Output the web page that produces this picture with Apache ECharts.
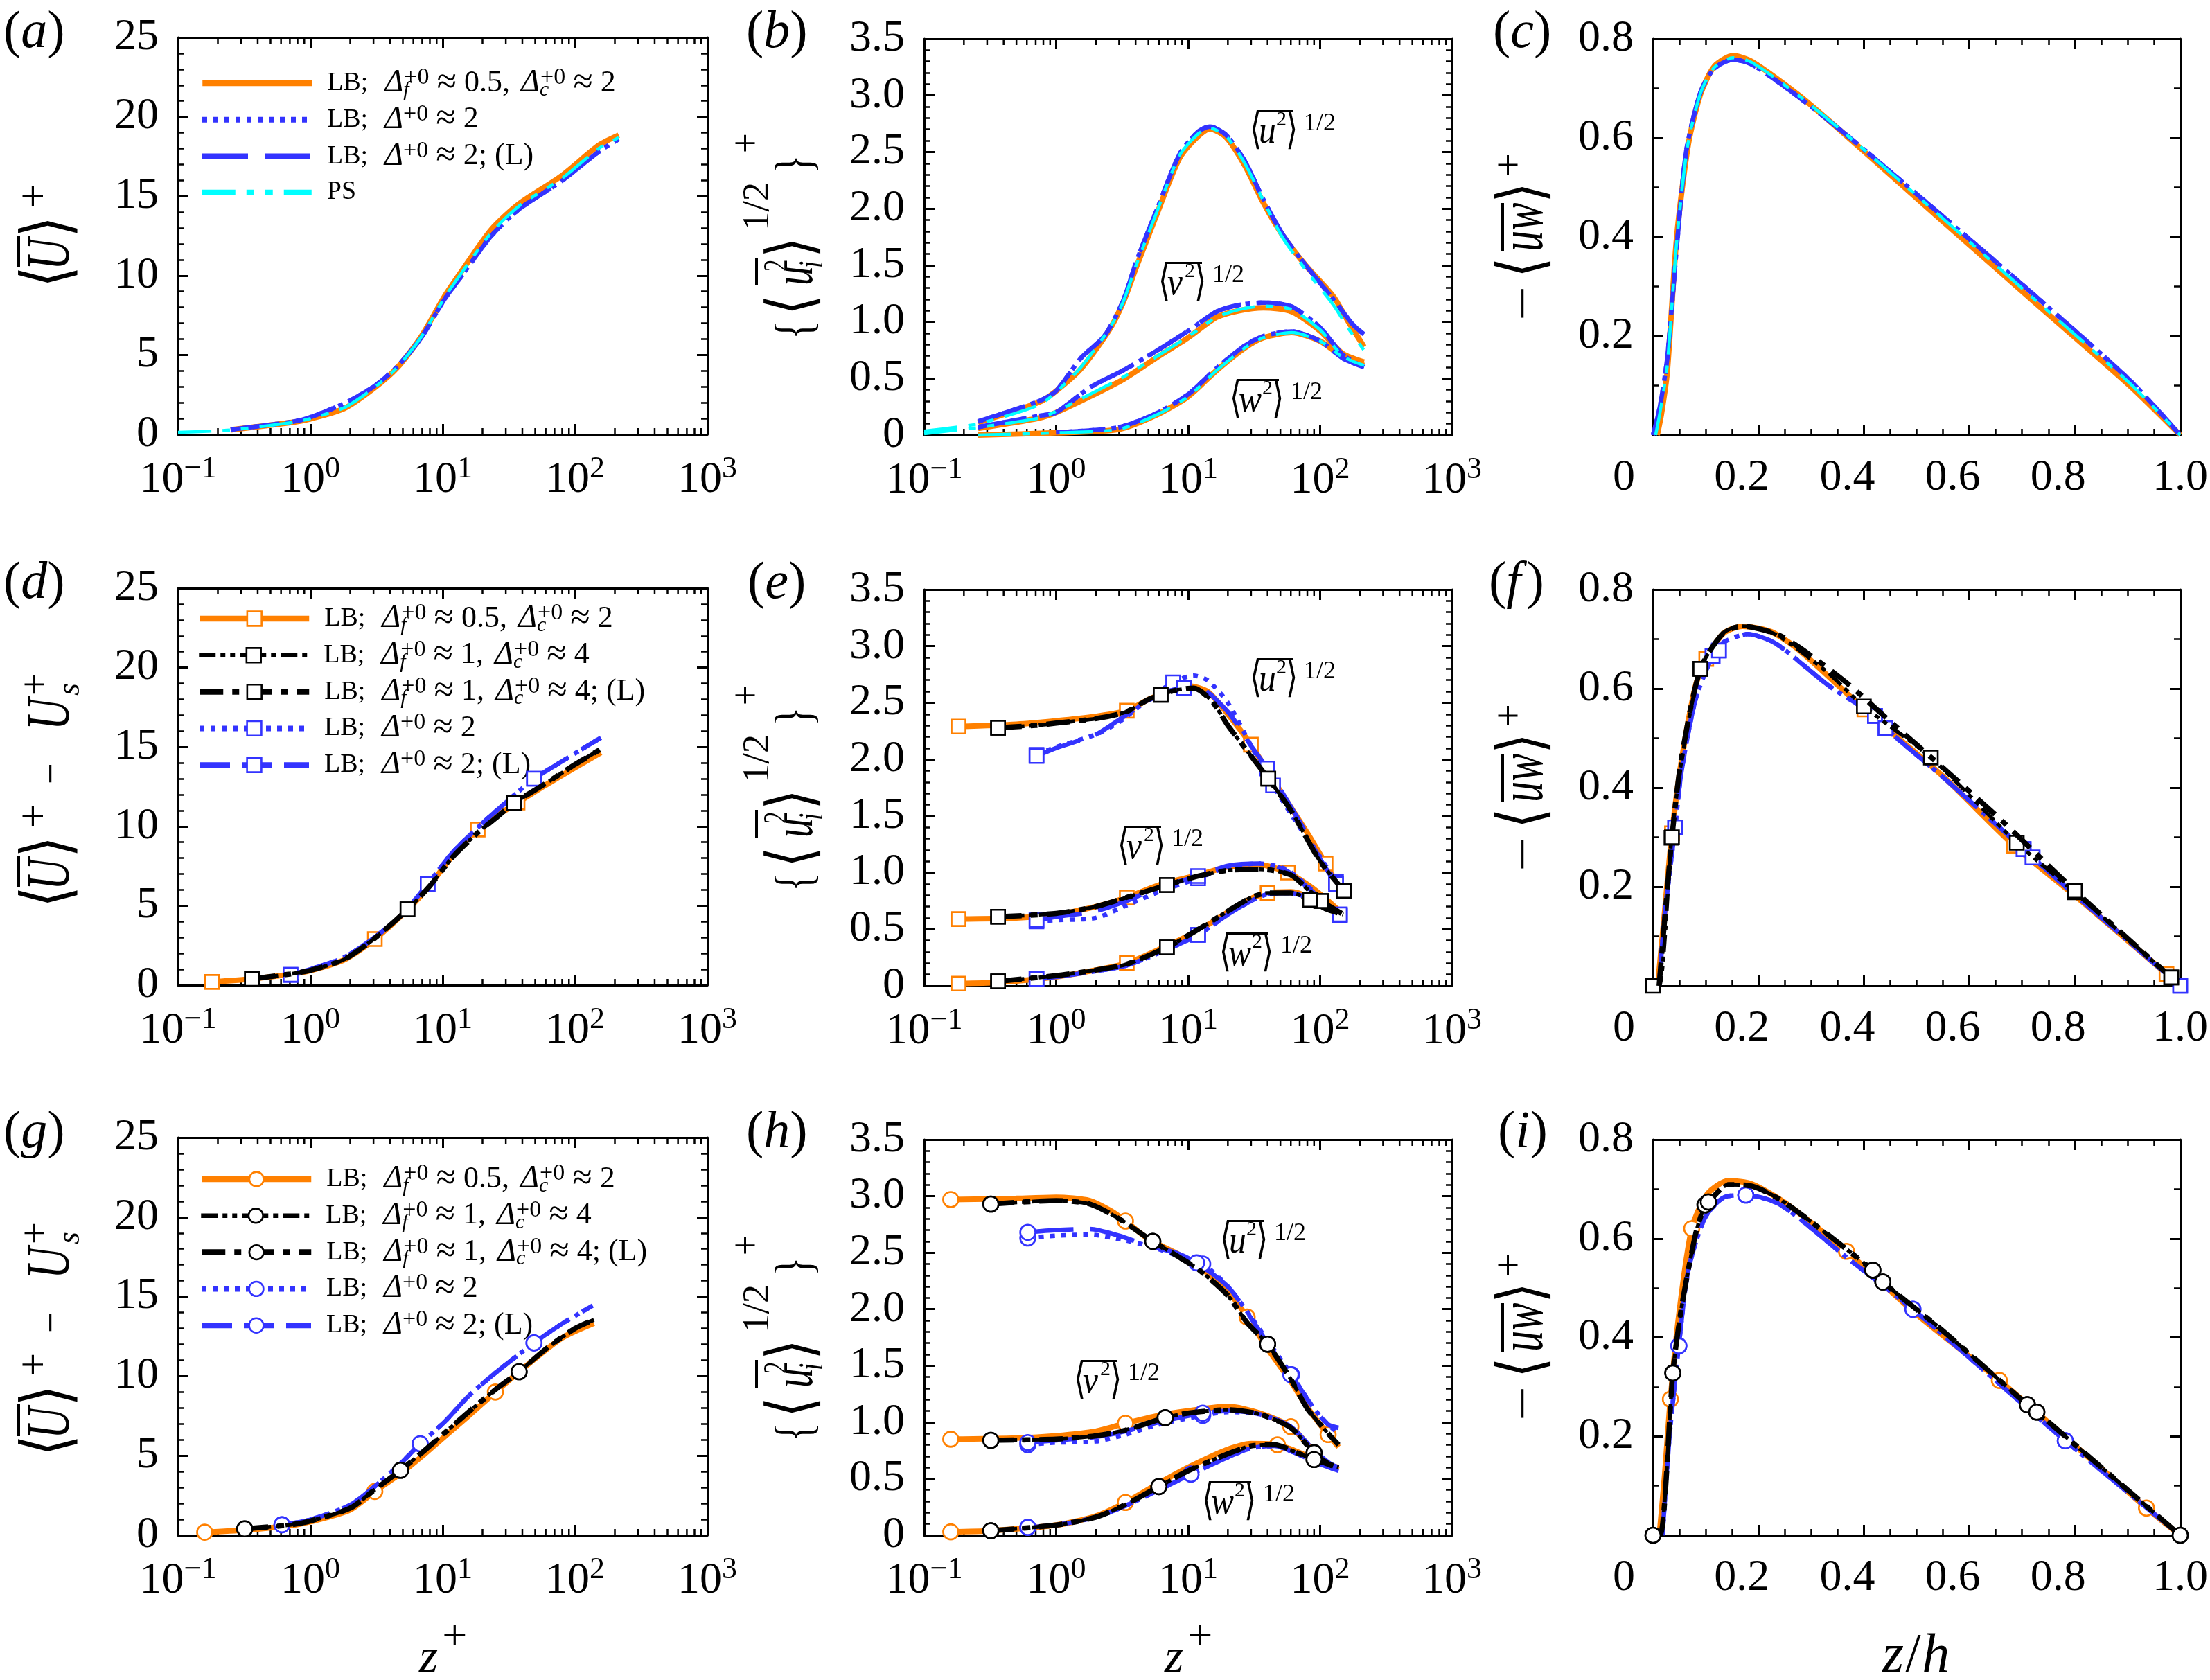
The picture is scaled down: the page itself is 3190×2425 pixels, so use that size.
<!DOCTYPE html>
<html><head><meta charset="utf-8"><style>html,body{margin:0;padding:0;background:#fff}#c{width:3190px;height:2425px}</style>
<script src="https://cdn.jsdelivr.net/npm/echarts@6/dist/echarts.min.js"></script></head><body><div id="c"></div>
<script>
// ---------- data ----------
const a_lb=[[.25,.28],[.74,.76],[1,.98],[1.8,1.63],[3.05,2.93],[4.57,4.23],[6.9,6.18],[10.3,8.68],[13.7,10.2],[23.3,12.9],[38,14.54],[79,16.28],[151,18.2],[214,18.84]];
const a_blue=[[.25,.3],[.74,.8],[1,1.08],[1.8,1.95],[3.05,3.04],[4.57,4.3],[6.9,6.1],[10.3,8.5],[13.7,9.9],[23.3,12.5],[38,14.2],[79,15.95],[151,17.8],[214,18.6]];
const a_ps=[[.1,.13],[.25,.28],[.74,.76],[1,1],[1.8,1.68],[3.05,2.95],[4.57,4.25],[6.9,6.15],[10.3,8.6],[13.7,10.1],[23.3,12.7],[38,14.4],[79,16.1],[151,18],[214,18.7]];

const b_u_lb=[[.256,.11],[.74,.29],[1,.39],[1.54,.585],[2.5,.92],[3.2,1.165],[4.1,1.5],[5.7,1.93],[8.6,2.445],[11.9,2.64],[14.6,2.705],[19.4,2.63],[26.9,2.38],[37.2,2.05],[51.6,1.77],[77.6,1.5],[126,1.225],[162,1.01],[215,.78]];
const b_u_long=[[.256,.12],[.74,.3],[1,.39],[1.54,.68],[2.32,.875],[3.2,1.18],[4.1,1.55],[5.7,1.97],[8.6,2.48],[11.9,2.68],[14.6,2.725],[19.4,2.65],[26.9,2.42],[37.2,2.08],[51.6,1.78],[77.6,1.5],[126,1.2],[176,.98],[215,.89]];
const b_u_ps=[[.1,.035],[.256,.1],[.74,.265],[1,.38],[1.54,.6],[2.5,.93],[3.2,1.17],[4.1,1.52],[5.7,1.95],[8.6,2.47],[11.9,2.66],[14.6,2.71],[19.4,2.64],[26.9,2.4],[37.2,2.07],[51.6,1.75],[77.6,1.46],[126,1.15],[162,.95],[215,.75]];
const b_v_lb=[[.256,.06],[.74,.15],[1,.2],[1.8,.34],[3.2,.49],[5.7,.68],[10,.86],[16.4,1.04],[24.5,1.1],[37.2,1.125],[60.8,1.09],[100,.92],[148,.72],[215,.645]];
const b_v_long=[[.256,.07],[.74,.17],[1,.2],[1.8,.42],[3.2,.57],[5.7,.74],[10,.92],[16.4,1.09],[24.5,1.15],[37.2,1.17],[60.8,1.135],[100,.95],[148,.71],[215,.6]];
const b_v_ps=[[.1,.012],[.256,.067],[.74,.15],[1,.21],[1.8,.36],[3.2,.51],[5.7,.69],[10,.87],[16.4,1.04],[24.5,1.11],[37.2,1.14],[60.8,1.11],[100,.93],[148,.7],[215,.61]];
const b_w_lb=[[.256,0],[1,.02],[2.95,.05],[5.7,.175],[10,.34],[16.4,.57],[26.9,.77],[37.2,.86],[60.8,.905],[100,.83],[148,.69],[215,.615]];
const b_w_blue=[[1,.025],[2.95,.067],[5.7,.19],[10,.36],[16.4,.59],[26.9,.79],[37.2,.875],[60.8,.915],[100,.83],[148,.68],[215,.6]];

const c_lb=[[.008,0],[.016,.043],[.027,.127],[.045,.4],[.067,.587],[.09,.688],[.116,.744],[.152,.766],[.188,.754],[.278,.685],[.385,.587],[.547,.434],[.726,.266],[.905,.099],[1,0]];
const c_blue=[[0,0],[.013,.057],[.027,.155],[.045,.378],[.063,.573],[.09,.692],[.116,.74],[.152,.758],[.188,.748],[.278,.681],[.385,.59],[.547,.444],[.726,.28],[.905,.11],[1,0]];
const c_ps=[[.005,0],[.014,.05],[.027,.14],[.045,.39],[.065,.58],[.09,.69],[.116,.742],[.152,.762],[.188,.752],[.278,.684],[.385,.59],[.547,.44],[.726,.272],[.905,.104],[1,0]];

const d_lb=[[.181,.2],[.35,.38],[.7,.68],[1,.92],[1.8,1.6],[3.07,2.9],[5.5,4.8],[8,6.3],[12,8.2],[18.4,9.8],[25,10.6],[36.8,11.5],[60,12.6],[100,13.7],[157,14.65]];
const d_black=[[.362,.39],[.7,.7],[1,.93],[1.8,1.62],[3.07,2.95],[5.42,4.77],[8,6.25],[12,8.1],[18.4,9.6],[25,10.5],[34.5,11.46],[60,12.7],[100,13.9],[157,14.87]];
const d_blue=[[.708,.65],[1,1],[1.8,1.75],[3,2.95],[5,4.5],[7.7,6.36],[12,8.4],[20,10.2],[30,11.5],[49,13],[80,14.1],[120,15],[157,15.58]];

const e_u_lb=[[.182,2.29],[.5,2.31],[1,2.34],[2,2.38],[3.43,2.43],[5,2.53],[7,2.6],[10,2.65],[14,2.6],[20,2.4],[29.9,2.13],[50,1.72],[80,1.35],[110,1.08],[143,.85]];
const e_u_black=[[.363,2.28],[.7,2.3],[1,2.32],[2,2.36],[3.4,2.42],[5,2.53],[6.2,2.57],[8,2.61],[11,2.63],[15,2.52],[20,2.3],[30,2.03],[40.5,1.83],[60,1.55],[100,1.1],[151,.84]];
const e_u_dot=[[.71,2.04],[1,2.11],[2,2.22],[3,2.33],[5,2.53],[7.7,2.68],[11,2.74],[14,2.7],[20,2.5],[30,2.12],[44,1.77],[70,1.4],[100,1.14],[132,.92],[150,.86]];
const e_u_long=[[.71,2.03],[1,2.1],[2,2.22],[3,2.35],[5,2.52],[7,2.6],[9.3,2.63],[12,2.63],[20,2.42],[30,2.12],[39.8,1.92],[70,1.45],[100,1.12],[132,.9],[150,.8]];
const e_v_lb=[[.182,.59],[.5,.6],[1,.63],[2,.7],[3.43,.78],[6,.89],[12,.98],[20,1.05],[35,1.07],[57,1],[84,.88],[110,.77],[143,.65]];
const e_v_black=[[.363,.61],[1,.64],[2,.7],[3.4,.78],[6.9,.89],[12,.97],[20,1.02],[35,1.03],[60,.98],[84,.83],[102,.75],[150,.63]];
const e_v_dot=[[.71,.57],[1,.58],[2,.6],[3.4,.71],[6,.83],[11.9,.95],[20,1.05],[35,1.08],[55,1.03],[84,.86],[110,.72],[141,.62]];
const e_v_long=[[.71,.58],[1,.61],[2,.66],[3.4,.75],[6,.87],[11.9,.97],[20,1.06],[35,1.08],[55,1.02],[84,.85],[110,.73],[141,.62]];
const e_w_lb=[[.182,.02],[.36,.03],[1,.08],[2,.14],[3.43,.2],[6,.32],[12,.49],[20,.65],[30,.77],[40,.82],[60,.83],[84,.78],[110,.7],[143,.62]];
const e_w_black=[[.363,.04],[1,.09],[2,.14],[3.4,.19],[6.9,.34],[12,.5],[20,.66],[30,.78],[40,.82],[60,.82],[84,.76],[110,.68],[150,.63]];
const e_w_blue=[[.71,.06],[1,.08],[2,.13],[3.4,.18],[6,.29],[11.9,.45],[20,.63],[30,.75],[40,.81],[60,.82],[84,.77],[110,.7],[141,.63]];

const f_lb=[[.009,0],[.022,.148],[.036,.308],[.054,.454],[.081,.607],[.101,.66],[.134,.712],[.17,.726],[.224,.715],[.278,.677],[.401,.558],[.547,.426],[.685,.283],[.815,.169],[.974,.024],[.995,.005]];
const f_black=[[0,0],[.0116,0],[.035,.299],[.0385,.332],[.054,.454],[.09,.64],[.134,.713],[.17,.726],[.235,.708],[.332,.632],[.4,.564],[.527,.461],[.69,.289],[.8,.189],[.983,.017]];
const f_blackL=[[.0116,0],[.036,.3],[.054,.46],[.09,.64],[.134,.713],[.17,.726],[.235,.71],[.278,.683],[.367,.612],[.457,.527],[.547,.443],[.663,.332],[.8,.192],[.983,.017]];
const f_blue=[[.0116,0],[.022,.141],[.042,.32],[.054,.433],[.081,.579],[.113,.666],[.125,.677],[.134,.694],[.179,.71],[.233,.691],[.332,.607],[.421,.545],[.441,.52],[.547,.424],[.703,.276],[.72,.259],[.8,.184],[1,0]];

const g_lb=[[.159,.19],[.32,.33],[.7,.6],[1,.85],[2,1.6],[3.07,2.75],[4.8,3.87],[6.9,4.93],[10.4,6.22],[15.7,7.5],[25,9],[45,10.8],[79.6,12.4],[139,13.33]];
const g_black=[[.319,.4],[.7,.65],[1,.9],[2,1.7],[3,2.8],[4.8,4.08],[6.9,5.16],[10.4,6.45],[15.7,7.75],[25,9.15],[37.8,10.28],[60,11.7],[100,13],[139,13.54]];
const g_blue=[[.61,.66],[1,.98],[2,1.9],[3,3],[4.8,4.5],[6.76,5.75],[10.4,7.15],[15.7,8.75],[25,10.2],[49,12.09],[80,13.3],[136,14.44]];

const h_u_lb=[[.159,2.97],[.5,2.98],[1,2.99],[1.8,2.96],[2.6,2.87],[3.35,2.78],[5,2.62],[8,2.5],[12,2.38],[20,2.16],[28,1.93],[40,1.65],[60,1.36],[80,1.13],[115,.89],[138,.78]];
const h_u_black=[[.32,2.93],[1,2.96],[1.8,2.93],[3,2.8],[5.4,2.6],[8,2.48],[12,2.35],[20,2.12],[28,1.88],[40,1.69],[60,1.38],[80,1.12],[115,.9],[138,.8]];
const h_u_dot=[[.61,2.63],[1,2.65],[1.8,2.66],[3,2.62],[5,2.56],[8,2.48],[12.9,2.4],[20,2.2],[30,1.93],[40,1.72],[60.8,1.42],[90,1.12],[115,.98],[138,.9]];
const h_u_long=[[.61,2.68],[1,2.7],[1.8,2.71],[3,2.65],[5,2.56],[8,2.5],[11.6,2.41],[20,2.2],[30,1.92],[40,1.7],[60,1.42],[90,1.12],[115,.98],[138,.95]];
const h_v_lb=[[.159,.85],[.5,.86],[1,.88],[2,.92],[3.35,.99],[6,1.06],[10,1.1],[20,1.14],[35,1.08],[60,.96],[90,.74],[120,.62],[138,.6]];
const h_v_black=[[.32,.84],[1,.85],[2,.88],[3.35,.93],[6.7,1.04],[10,1.08],[20,1.11],[35,1.07],[60,.95],[90,.73],[120,.62],[138,.6]];
const h_v_dot=[[.61,.8],[1,.82],[2,.83],[3.35,.89],[6,.98],[12.9,1.06],[20,1.09],[35,1.07],[60,.96],[90,.75],[120,.63],[138,.6]];
const h_v_long=[[.61,.82],[1,.84],[2,.87],[3.35,.92],[6,1],[12.9,1.08],[20,1.1],[35,1.07],[60,.96],[90,.75],[120,.63],[138,.6]];
const h_w_lb=[[.159,.03],[.32,.04],[1,.09],[2,.17],[3.35,.29],[6,.46],[10,.6],[20,.76],[30,.81],[47.5,.8],[70,.73],[100,.65],[138,.58]];
const h_w_black=[[.32,.04],[1,.09],[2,.16],[3.35,.27],[6,.43],[10,.57],[20,.72],[30,.79],[45,.8],[70,.72],[90,.67],[138,.6]];
const h_w_blue=[[.61,.07],[1,.09],[2,.16],[3.35,.26],[6,.4],[10.5,.54],[20,.69],[30,.77],[45,.79],[70,.71],[100,.63],[138,.57]];

const i_lb=[[.012,0],[.022,.12],[.033,.275],[.049,.445],[.0735,.62],[.103,.69],[.143,.717],[.188,.71],[.251,.672],[.367,.574],[.502,.445],[.657,.313],[.789,.192],[.936,.055],[1,0]];
const i_black=[[0,0],[.0134,0],[.0376,.328],[.054,.46],[.081,.61],[.0986,.668],[.105,.674],[.143,.709],[.188,.706],[.251,.672],[.417,.536],[.436,.512],[.547,.416],[.71,.264],[.728,.249],[.782,.2],[1,0]];
const i_blue=[[.018,0],[.031,.196],[.049,.383],[.067,.536],[.0986,.642],[.134,.683],[.176,.688],[.242,.668],[.367,.562],[.493,.457],[.654,.309],[.782,.191],[1,0]];

// marker positions along the curves (abscissae)
const d_lb_m=[.181,3.07,18.4,36.8], d_black_m=[.362,5.42,34.5], d_blue_m=[.708,7.7,49];
const e_u_lb_m=[.182,3.43,29.9,110], e_u_black_m=[.363,6.2,40.5,151], e_u_dot_m=[.71,7.7,44,132], e_u_long_m=[.71,9.3,39.8,132];
const e_v_lb_m=[.182,3.43,57], e_v_black_m=[.363,6.9,102], e_v_blue_m=[.71,11.9,141];
const e_w_lb_m=[.182,3.43,40], e_w_black_m=[.363,6.9,84], e_w_blue_m=[.71,11.9,141];
const f_lb_m=[.036,.101,.401,.685,.974], f_black_m=[0,.035,.09,.4,.527,.69,.8,.983], f_blackL_m=[.036,.09,.8,.983], f_blue_m=[.042,.113,.125,.421,.441,.703,.72,1];
const g_lb_m=[.159,3.07,25], g_black_m=[.319,4.8,37.8], g_blue_m=[.61,6.76,49];
const h_u_lb_m=[.159,3.35,28,115], h_u_black_m=[.32,5.4,40], h_u_dot_m=[.61,12.9,60.8], h_u_long_m=[.61,11.6,60];
const h_v_lb_m=[.159,3.35,60], h_v_black_m=[.32,6.7,90], h_v_blue_m=[.61,12.9];
const h_w_lb_m=[.159,3.35,47.5], h_w_black_m=[.32,6,90], h_w_blue_m=[.61,10.5];
const i_lb_m=[.033,.0735,.367,.657,.936], i_black_m=[0,.0376,.0986,.105,.417,.436,.71,.728,1], i_blue_m=[.049,.176,.493,.782];

const legendA=['LB f05 c2','LB d2','LB d2 L','PS'];
const legendB=['LB f05 c2','LB f1 c4','LB f1 c4 L','LB d2','LB d2 L'];
const DF='{m|LB;}{sa| }{d|Δ}{z|f}{p|+0}{sb| }{e|≈}{sb| }';
const DC='{sc| }{d|Δ}{z|c}{p|+0}{sb| }{e|≈}{sb| }';
const D0='{m|LB;}{sa| }{d|Δ}{p|+0}{sb| }{e|≈}{sb| }';
const legendText={
 'LB f05 c2':'{g| }'+DF+'{n|0.5,}'+DC+'{n|2}',
 'LB f1 c4':'{g| }'+DF+'{n|1,}'+DC+'{n|4}',
 'LB f1 c4 L':'{g| }'+DF+'{n|1,}'+DC+'{n|4; (L)}',
 'LB d2':'{g| }'+D0+'{n|2}',
 'LB d2 L':'{g| }'+D0+'{n|2; (L)}',
 'PS':'{g| }{m|PS}{p| }'
};

// ---------- styling ----------
const ORANGE='#ff8000',BLUE='#3333ff',CYAN='#00ffff',BLACK='#000000',SERIF='"Liberation Serif","DejaVu Serif",serif';
const STY={
 lb:{c:ORANGE,w:8,d:'solid',z:3,n:'LB f05 c2',lw:8.5},
 dot:{c:BLUE,w:6.5,d:[7,9],z:4,n:'LB d2',lw:8},
 long:{c:BLUE,w:6.5,d:[66,24],z:5,n:'LB d2 L',lw:8,ld:[44,17]},
 ps:{c:CYAN,w:4.5,d:[48,16,11,16,11,16],z:6,n:'PS',lw:7.5},
 bs:{c:BLACK,w:5.5,d:[24,7,7,7,7,7],z:7,n:'LB f1 c4',lw:6.5},
 bl:{c:BLACK,w:7.5,d:[34,13,10,13],z:8,n:'LB f1 c4 L',lw:8.5}
};
const KEY={'LB f05 c2':'lb','LB d2':'dot','LB d2 L':'long','PS':'ps','LB f1 c4':'bs','LB f1 c4 L':'bl'};
function S(k,data,m){return {k,data,m:m||[]};}

const panels=[
{id:'a',log:1,box:[257,54,764,573],yMax:25,yInt:5,ySplit:5,sym:'none',legend:legendA,leg:[288,119],curves:[S('lb',a_lb),S('dot',a_blue),S('long',a_blue),S('ps',a_ps)]},
{id:'b',log:1,box:[1334,56,762,572],yMax:3.5,yInt:.5,ySplit:5,sym:'none',curves:[S('lb',b_u_lb),S('lb',b_v_lb),S('lb',b_w_lb),S('dot',b_u_long),S('dot',b_v_long),S('dot',b_w_blue),S('long',b_u_long),S('long',b_v_long),S('long',b_w_blue),S('ps',b_u_ps),S('ps',b_v_ps),S('ps',b_w_lb)]},
{id:'c',box:[2386,56,762,572],yMax:.8,yInt:.2,ySplit:2,sym:'none',curves:[S('lb',c_lb),S('dot',c_blue),S('long',c_blue),S('ps',c_ps)]},
{id:'d',log:1,box:[257,849,764,573],yMax:25,yInt:5,ySplit:5,sym:'rect',legend:legendB,leg:[284,892],curves:[S('lb',d_lb,d_lb_m),S('dot',d_blue,d_blue_m),S('long',d_blue,d_blue_m),S('bs',d_black,d_black_m),S('bl',d_black,d_black_m)]},
{id:'e',log:1,box:[1334,851,762,572],yMax:3.5,yInt:.5,ySplit:5,sym:'rect',curves:[S('lb',e_u_lb,e_u_lb_m),S('lb',e_v_lb,e_v_lb_m),S('lb',e_w_lb,e_w_lb_m),S('dot',e_u_dot,e_u_dot_m),S('dot',e_v_dot,e_v_blue_m),S('dot',e_w_blue,e_w_blue_m),S('long',e_u_long,e_u_long_m),S('long',e_v_long,e_v_blue_m),S('long',e_w_blue,e_w_blue_m),S('bs',e_u_black,e_u_black_m),S('bs',e_v_black,e_v_black_m),S('bs',e_w_black,e_w_black_m),S('bl',e_u_black,e_u_black_m),S('bl',e_v_black,e_v_black_m),S('bl',e_w_black,e_w_black_m)]},
{id:'f',box:[2386,851,762,572],yMax:.8,yInt:.2,ySplit:2,sym:'rect',curves:[S('lb',f_lb,f_lb_m),S('dot',f_blue,f_blue_m),S('long',f_blue,f_blue_m),S('bs',f_black,f_black_m),S('bl',f_blackL,f_blackL_m)]},
{id:'g',log:1,box:[257,1642,764,574],yMax:25,yInt:5,ySplit:5,sym:'circle',legend:legendB,leg:[287,1701],curves:[S('lb',g_lb,g_lb_m),S('dot',g_blue,g_blue_m),S('long',g_blue,g_blue_m),S('bs',g_black,g_black_m),S('bl',g_black,g_black_m)]},
{id:'h',log:1,box:[1334,1645,762,571],yMax:3.5,yInt:.5,ySplit:5,sym:'circle',curves:[S('lb',h_u_lb,h_u_lb_m),S('lb',h_v_lb,h_v_lb_m),S('lb',h_w_lb,h_w_lb_m),S('dot',h_u_dot,h_u_dot_m),S('dot',h_v_dot,h_v_blue_m),S('dot',h_w_blue,h_w_blue_m),S('long',h_u_long,h_u_long_m),S('long',h_v_long,h_v_blue_m),S('long',h_w_blue,h_w_blue_m),S('bs',h_u_black,h_u_black_m),S('bs',h_v_black,h_v_black_m),S('bs',h_w_black,h_w_black_m),S('bl',h_u_black,h_u_black_m),S('bl',h_v_black,h_v_black_m),S('bl',h_w_black,h_w_black_m)]},
{id:'i',box:[2386,1645,762,571],yMax:.8,yInt:.2,ySplit:2,sym:'circle',curves:[S('lb',i_lb,i_lb_m),S('dot',i_blue,i_blue_m),S('long',i_blue,i_blue_m),S('bs',i_black,i_black_m),S('bl',i_black,i_black_m)]}
];

// ---------- math text helper ----------
const mctx=document.createElement('canvas').getContext('2d');
function T(t,s,o){return Object.assign({t,s},o||{});}
function run(x,y,rot,items){
  const kids=[];let cx=0;
  items.forEach(it=>{
    const font=(it.i?'italic ':'')+it.s+'px '+SERIF;mctx.font=font;
    const k=it.k||1;const w=mctx.measureText(it.t).width*k;const px=it.at!=null?it.at:cx+(it.dx||0);const up=it.up||0;
    kids.push({type:'text',x:px,y:-up-.22*it.s,scaleX:k,style:{text:it.t,x:0,y:0,font,fill:'#000',textAlign:'left',textVerticalAlign:'middle'}});
    if(it.ol)kids.push({type:'rect',shape:{x:px+(it.ox||0),y:-up-it.ol,width:it.ow||w,height:it.oh||4},style:{fill:'#000'}});
    cx=px+w;
  });
  return {type:'group',x,y,rotation:rot,z:50,children:kids};
}
const R=Math.PI/2,G=[];
[['a',5,65,'a'],['b',1077,65,'b'],['c',2155,65,'c'],['d',5,860,'d'],['e',1079,860,'e'],['f',2149,860,'f'],['g',5,1653,'g'],['h',1077,1653,'h'],['i',2162,1653,'i']].forEach(l=>{
  G.push(run(l[1],l[2],0,[T('(',76),T(l[3],76,{i:1}),T(')',76,{dx:l[3]=='f'?8:0})]));
});
const titleU=[T('⟨',96,{at:0,k:.83}),T('U',88,{i:1,at:25,k:.72,ol:71,oh:5,ox:4,ow:46}),T('⟩',96,{at:72,k:.83}),T('+',64,{at:115,up:29,k:.95})];
G.push(run(95,415,R,titleU));
const dU=[...titleU,T('−',64,{at:178,up:4,k:.85}),T('U',88,{i:1,at:256,k:.72}),T('s',46,{i:1,at:306,up:-17}),T('+',60,{at:306,up:29,k:.95})];
G.push(run(95,1310,R,dU));G.push(run(95,2102,R,dU));
const titleB=[T('{',76,{at:0,k:.75}),T('⟨',92,{at:35,k:.83}),T('u',82,{i:1,at:78,k:.68,ol:78,ow:40}),T('2',50,{at:98,up:34,k:.7}),T('i',50,{i:1,at:103,up:-17,k:.75}),T('⟩',92,{at:118,k:.83}),T('1/2',55,{at:157,up:61}),T('}',76,{at:239,k:.75}),T('+',60,{at:269,up:76,k:.85})];
G.push(run(1168,490,R,titleB));G.push(run(1168,1287,R,titleB));G.push(run(1168,2081,R,titleB));
const titleC=[T('−',64,{at:0,up:6,k:1.39}),T('⟨',92,{at:62,k:.83}),T('uw',90,{i:1,at:100,k:.67,ol:55,ow:70}),T('⟩',92,{at:170,k:.83}),T('+',60,{at:208,up:29}) ];
G.push(run(2222,463,R,titleC));G.push(run(2222,1258,R,titleC));G.push(run(2222,2051,R,titleC));
function corr(ch){const w=ch==='w';return [T('⟨',63,{at:0,k:.7}),T(ch,55,{i:1,at:13,k:.9,ol:45,oh:3,ow:w?58:50}),T('2',30,{at:w?47:38,up:24}),T('⟩',63,{at:w?61:52,k:.7}),T('1/2',36,{at:w?88:78,up:18})];}
[[1804,204,'u'],[1672,423,'v'],[1775,592,'w'],[1804,995,'u'],[1613,1237,'v'],[1760,1391,'w'],[1761,1806,'u'],[1550,2008,'v'],[1735,2183,'w']].forEach(l=>G.push(run(l[0],l[1],0,corr(l[2]))));
G.push(run(605,2410,0,[T('z',70,{i:1}),T('+',64,{up:31,dx:6})]));
G.push(run(1681,2410,0,[T('z',70,{i:1}),T('+',64,{up:31,dx:6})]));
G.push(run(2717,2410,0,[T('z',80,{i:1}),T('/',80,{dx:2}),T('h',80,{i:1,dx:2})]));

// ---------- ECharts option ----------
const AX={fontFamily:SERIF,fontSize:64,color:'#000'};
const LOG_MINOR=[];[-1,0,1,2].forEach(d=>{for(let k=2;k<10;k++)LOG_MINOR.push(k*Math.pow(10,d));});
const grids=[],xs=[],ys=[],series=[],legends=[];
const line={lineStyle:{color:'#000',width:3}};
const RH=50,RSTEP=52.8;
const legRich={
  g:{width:17,fontSize:10,lineHeight:RH},
  sa:{width:24,fontSize:10,lineHeight:RH},sb:{width:11,fontSize:10,lineHeight:RH},sc:{width:16,fontSize:10,lineHeight:RH},
  m:{fontFamily:SERIF,fontSize:38,lineHeight:RH,color:'#000'},
  n:{fontFamily:SERIF,fontSize:44,lineHeight:RH,color:'#000'},
  e:{fontFamily:SERIF,fontSize:52,lineHeight:RH,color:'#000'},
  d:{fontFamily:SERIF,fontSize:46,fontStyle:'italic',lineHeight:RH,color:'#000'},
  p:{fontFamily:SERIF,fontSize:34,lineHeight:22,verticalAlign:'top',color:'#000'},
  z:{fontFamily:SERIF,fontSize:30,fontStyle:'italic',lineHeight:20,verticalAlign:'bottom',width:1,color:'#000'}
};
panels.forEach((p,pi)=>{
  grids.push({left:p.box[0],top:p.box[1],width:p.box[2],height:p.box[3],show:false});
  const xBase=p.log?{type:'log',logBase:10,min:.1,max:1000}:{type:'value',min:0,max:1,interval:.2,minorTick:{show:true,splitNumber:4,length:9,lineStyle:{color:'#000',width:2.5}}};
  const xLabel=p.log?{margin:28,fontFamily:SERIF,color:'#000',formatter:v=>{const e=Math.round(Math.log10(v));return '{b|10}{s|'+(e<0?'−':'')+Math.abs(e)+'}';},
     rich:{b:{fontFamily:SERIF,fontSize:64,lineHeight:76,color:'#000'},s:{fontFamily:SERIF,fontSize:44,lineHeight:44,verticalAlign:'top',color:'#000'}}}
   :{margin:30,fontFamily:SERIF,color:'#000',formatter:v=>{if(v===0)return '{z|0}';if(Math.abs(v-1)<1e-6)return '{n|1.0}';return '{m|'+v.toFixed(1)+'}';},
     rich:{z:{fontFamily:SERIF,fontSize:64,padding:[0,84,0,0],color:'#000'},m:{fontFamily:SERIF,fontSize:64,padding:[0,48,0,0],color:'#000'},n:{fontFamily:SERIF,fontSize:64,color:'#000'}}};
  const tick={show:true,inside:true,length:15,lineStyle:{color:'#000',width:3}};
  xs.push(Object.assign({gridIndex:pi,position:'bottom',axisLine:Object.assign({onZero:false,show:true},line),axisTick:tick,axisLabel:xLabel,splitLine:{show:false}},xBase));
  xs.push(Object.assign({gridIndex:pi,position:'top',axisLine:Object.assign({onZero:false,show:true},line),axisTick:tick,axisLabel:{show:false},splitLine:{show:false}},xBase));
  const yBase={type:'value',min:0,max:p.yMax,interval:p.yInt,minorTick:{show:true,splitNumber:p.ySplit,length:9,lineStyle:{color:'#000',width:2.5}},splitLine:{show:false}};
  const yFmt=v=>{if(v===0)return p.log?'0':'';return p.yMax===25?String(v):v.toFixed(1);};
  ys.push(Object.assign({gridIndex:pi,position:'left',axisLine:Object.assign({onZero:false,show:true},line),axisTick:tick,axisLabel:Object.assign({margin:28,formatter:yFmt,padding:[0,0,8,0]},AX)},yBase));
  ys.push(Object.assign({gridIndex:pi,position:'right',axisLine:Object.assign({onZero:false,show:true},line),axisTick:tick,axisLabel:{show:false}},yBase));
  const xi=pi*2,yi=pi*2;
  if(p.log)series.push({type:'custom',name:p.id+' minor ticks',coordinateSystem:'cartesian2d',xAxisIndex:xi,yAxisIndex:yi,silent:true,clip:false,z:1,animation:false,
    data:LOG_MINOR.map(v=>[v,0]),encode:{x:0,y:1},renderItem:(params,api)=>{const v=api.value(0);const b=api.coord([v,0]),t=api.coord([v,p.yMax]);const st={stroke:'#000',lineWidth:2.5};
      return {type:'group',children:[{type:'line',shape:{x1:b[0],y1:b[1],x2:b[0],y2:b[1]-9},style:st},{type:'line',shape:{x1:t[0],y1:t[1],x2:t[0],y2:t[1]+9},style:st}]};}});
  p.curves.forEach(cv=>{
    const st=STY[cv.k];
    series.push({type:'line',name:p.id+': '+st.n,xAxisIndex:xi,yAxisIndex:yi,z:st.z,smooth:.25,clip:false,animation:false,silent:true,showAllSymbol:true,
      symbol:p.sym,symbolSize:p.sym==='rect'?20:22,
      itemStyle:{color:'#fff',borderColor:st.c,borderWidth:2.6},
      lineStyle:{color:st.c,width:st.w,type:st.d,cap:'butt'},
      data:cv.data.map(pt=>cv.m.includes(pt[0])?{value:pt}:{value:pt,symbol:'none'})});
  });
  if(p.legend){
    p.legend.forEach((n,ri)=>{
      const st=STY[KEY[n]];
      legends.push({orient:'vertical',left:p.leg[0],top:p.leg[1]+ri*RSTEP-RH/2,itemWidth:158,itemHeight:26,itemGap:0,padding:0,selectedMode:false,
        data:[p.id+': '+n],
        lineStyle:{width:st.lw,type:(p.sym!=='none'&&st.ld)?st.ld:'inherit'},
        itemStyle:p.sym==='none'?{opacity:0}:{borderWidth:2.6},
        formatter:v=>legendText[v.split(': ')[1]],
        textStyle:{fontFamily:SERIF,fontSize:35,color:'#000',rich:legRich}});
    });
  }
});
const chart=echarts.init(document.getElementById('c'),null,{renderer:'canvas',width:3190,height:2425});
chart.setOption({backgroundColor:'#fff',animation:false,tooltip:{show:false},grid:grids,xAxis:xs,yAxis:ys,series,legend:legends,graphic:{elements:G}});
</script></body></html>
